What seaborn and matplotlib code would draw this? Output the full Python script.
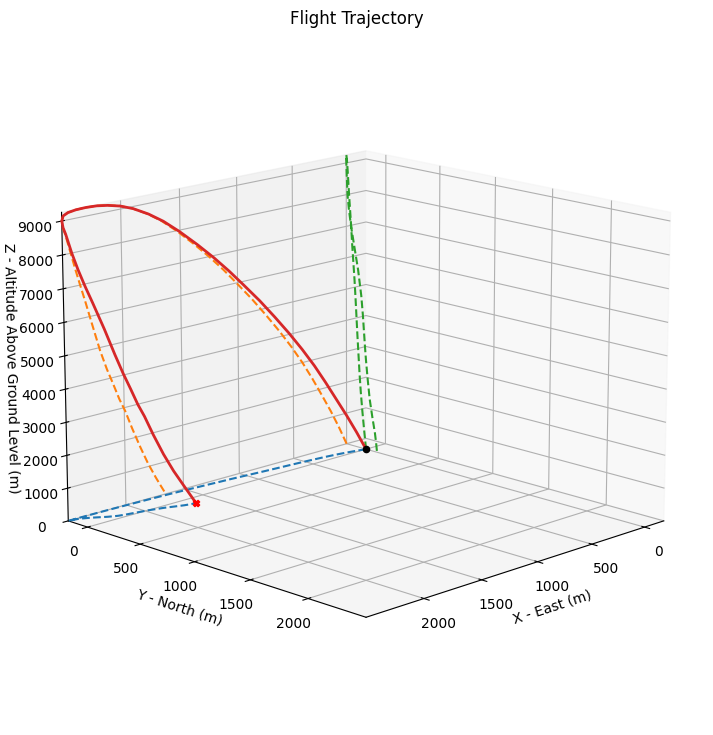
import numpy as np
import matplotlib
matplotlib.use("Agg")
import matplotlib.pyplot as plt
import seaborn as sns

# Trajectory (m), time ordered: launch -> apogee -> landing
x_east = [0, 72, 150, 235, 322, 415, 518, 630, 750, 875, 1010, 1125, 1250,
          1385, 1530, 1660, 1780, 1905, 2010, 2110, 2200, 2290,
          2370, 2435, 2475, 2487, 2480, 2462, 2420, 2385, 2348, 2310, 2252, 2193,
          2140, 2089, 2040, 1993, 1935, 1867, 1805, 1740, 1698, 1655]
y_north = [0, -18, -35, -50, -62, -72, -82, -91, -100, -110, -122, -132, -140,
           -150, -160, -167, -172, -177, -180, -183, -185, -186,
           -187, -187, -187, -186, -184, -182, -175, -160, -140, -115, -75, -45,
           -30, -20, -10, -1, 15, 35, 60, 85, 96, 105]
z_agl = [0, 600, 1200, 1800, 2400, 3000, 3600, 4200, 4800, 5400, 6000, 6500, 7000,
         7500, 8000, 8400, 8700, 8950, 9100, 9190, 9240, 9255,
         9245, 9210, 9140, 9000, 8800, 8600, 8000, 7500, 7000, 6500, 5700, 4900,
         4300, 3800, 3300, 2900, 2300, 1650, 1100, 600, 300, 0]

x = np.array(x_east, dtype=float)
y = np.array(y_north, dtype=float)
z = np.array(z_agl, dtype=float)

max_z, min_z = z.max(), z.min()
min_x, min_y = x.min(), y.min()
max_xy = max(x.max(), y.max())
min_xy = min(min_x, min_y)

colors = sns.color_palette("tab10")

fig = plt.figure(figsize=(7.13, 7.35), dpi=100)
ax1 = fig.add_axes([0.0114, 0.0208, 0.978, 0.931], projection="3d")
ax1.plot(x, y, zs=min_z, zdir="z", linestyle="--", color=colors[0])
ax1.plot(x, z, zs=min_y, zdir="y", linestyle="--", color=colors[1])
ax1.plot(y, z, zs=min_x, zdir="x", linestyle="--", color=colors[2])
ax1.plot(x, y, z, linewidth=2, color=colors[3])
ax1.scatter(x[0], y[0], z[0], color="black")
ax1.scatter(x[-1], y[-1], z[-1], color="red", marker="X")
ax1.set_xlabel("X - East (m)")
ax1.set_ylabel("Y - North (m)")
ax1.set_zlabel("Z - Altitude Above Ground Level (m)", labelpad=2)
ax1.set_title("Flight Trajectory", pad=8.5)
ax1.set_xlim(min_xy, max_xy)
ax1.set_ylim(min_xy, max_xy)
ax1.set_zlim(min_z, max_z)
ax1.set_box_aspect(None, zoom=0.967)
ax1.view_init(15, 45)

fig.savefig("out.png", dpi=100)
